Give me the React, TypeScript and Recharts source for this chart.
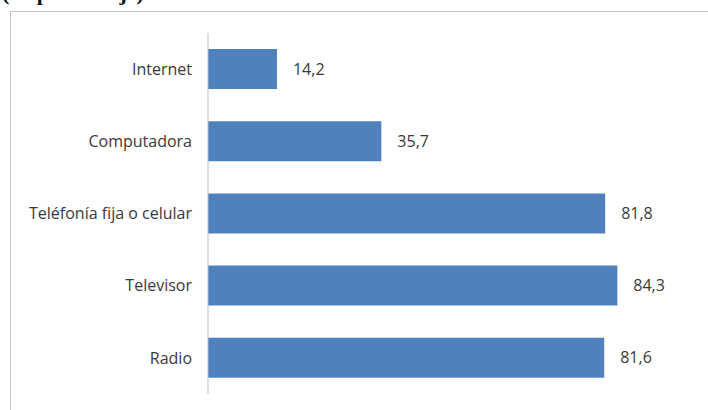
import { BarChart, Bar, XAxis, YAxis, LabelList } from "recharts";

// Household access to ICT goods, in percent. Top-to-bottom order as drawn.
const categories = ["Internet", "Computadora", "Teléfonía fija o celular", "Televisor", "Radio"];
const values = [14.2, 35.7, 81.8, 84.3, 81.6];

const data = categories.map((name, i) => ({ name, value: values[i] }));

const TEXT = "#3a3a3a";
const FONT = "'Open Sans', sans-serif";

export default function App() {
  return (
    <div style={{ position: "absolute", left: 0, top: 0, width: 708, height: 410, overflow: "hidden", background: "#fff" }}>
      {/* subtitle from the source page, mostly cut off by the crop */}
      <div
        style={{
          position: "absolute",
          left: 2,
          top: -20,
          fontFamily: "'Liberation Serif', 'Times New Roman', serif",
          fontWeight: "bold",
          fontSize: 22,
          color: "#111",
          whiteSpace: "nowrap",
        }}
      >
        (en porcentaje)
      </div>
      <div
        style={{
          position: "absolute",
          left: 10,
          top: 11,
          width: 720,
          height: 420,
          border: "1px solid #c4c4c4",
        }}
      />
      <div style={{ position: "absolute", left: 0, top: 0 }}>
        <BarChart
          width={708}
          height={410}
          data={data}
          layout="vertical"
          margin={{ top: 33, right: 63, bottom: 16, left: 0 }}
        >
          <XAxis type="number" domain={[0, 90]} hide />
          <YAxis
            type="category"
            dataKey="name"
            width={208}
            tickLine={false}
            tickSize={0}
            tickMargin={16}
            axisLine={{ stroke: "#bdbdbd" }}
            tick={{ fill: TEXT, fontSize: 16, fontFamily: FONT }}
            interval={0}
          />
          <Bar dataKey="value" fill="#4f81bd" barSize={40} isAnimationActive={false}>
            <LabelList
              dataKey="value"
              position="right"
              offset={16}
              formatter={(v: number) => v.toFixed(1).replace(".", ",")}
              style={{ fill: TEXT, fontSize: 16, fontFamily: FONT }}
            />
          </Bar>
        </BarChart>
      </div>
    </div>
  );
}
